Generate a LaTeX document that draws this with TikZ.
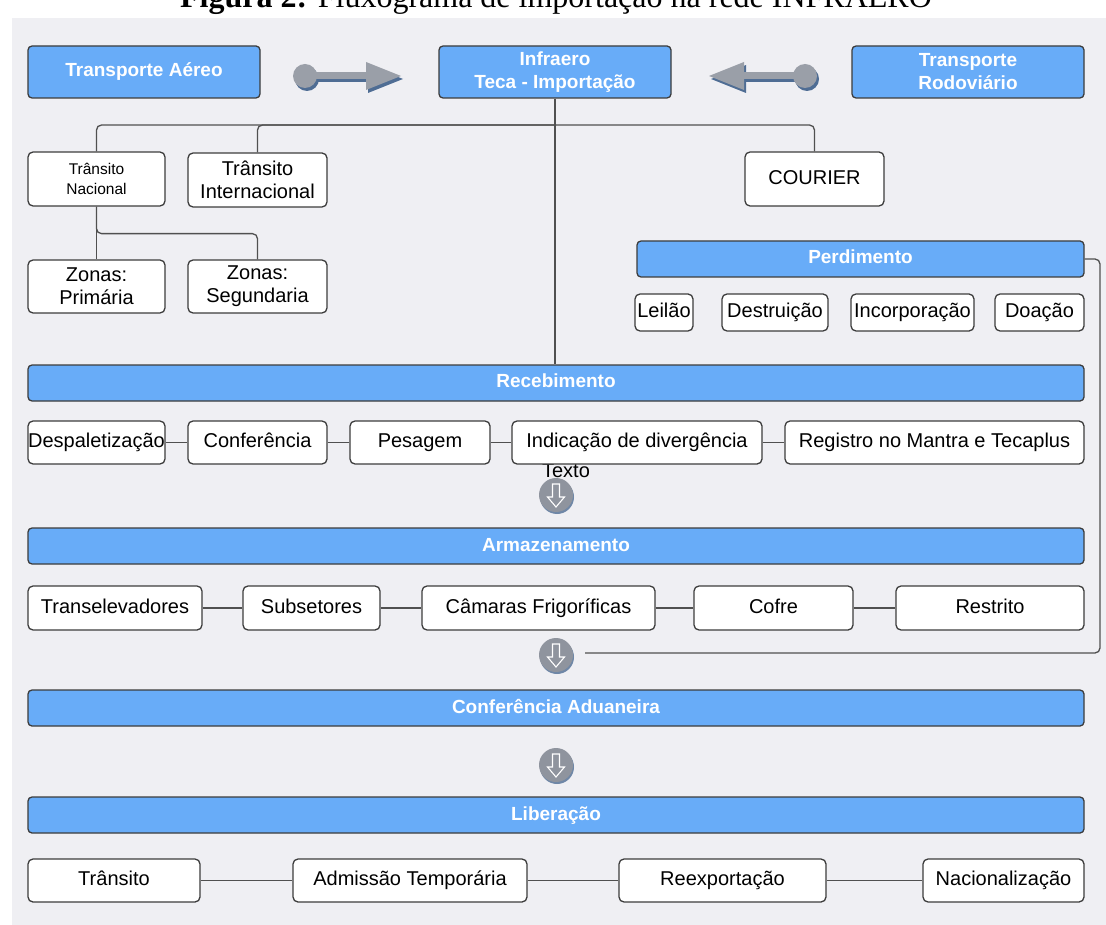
\documentclass[tikz,border=0pt]{standalone}
\usepackage{fontspec}
\setmainfont{Liberation Sans}
\newfontfamily\titlefont{Liberation Serif}
\usepackage{xcolor}
\usepackage{tikz}
\usetikzlibrary{positioning,shadows}
\definecolor{panelgray}{HTML}{EFEFF3}
\definecolor{barblue}{HTML}{68ACF8}
\definecolor{boxline}{HTML}{3C3C3C}
\definecolor{linegray}{HTML}{505050}
\definecolor{arrowgray}{HTML}{9A9FA8}
\definecolor{arrowshade}{HTML}{4F6D94}
\definecolor{circlegray}{HTML}{8F949E}
\tikzset{
	x=1pt, y=-1pt, % pixel grid of the figure
	bar/.style={draw=boxline, fill=barblue, rounded corners=4pt, line width=1.3pt,
		text=white, font=\bfseries\fontsize{19}{23}\selectfont,
		minimum width=1056pt, minimum height=36pt, inner sep=0pt,
		text height=14pt, text depth=4pt},
	topbox/.style={bar, minimum width=232pt, minimum height=52pt, align=center,
		text height=, text depth=},
	item2/.style={draw=boxline, fill=white, rounded corners=5pt, line width=1.3pt,
		font=\fontsize{20}{23}\selectfont, inner sep=0pt, align=center, minimum height=43pt},
	item/.style={item2, text height=14.5pt, text depth=4pt},
	link/.style={draw=linegray, line width=1.3pt, rounded corners=5pt},
	godown/.style={circle, fill=circlegray, minimum size=34pt, inner sep=0pt,
		drop shadow={shadow xshift=1pt, shadow yshift=-2pt, fill=arrowshade, opacity=.8}},
	titulo/.style={font=\titlefont\fontsize{32}{36}\selectfont},
}
\begin{document}
\begin{tikzpicture}
	\clip (0,0) rectangle (1106,925);
	\fill[panelgray] (12,18) rectangle (1106,925);
	\node[titulo, anchor=base] (titulo) at (556,8) {\textbf{Figura 2:} Fluxograma de importação na rede INFRAERO};

	% topo
	\node[topbox] (aereo) at (144,72) {Transporte Aéreo};
	\node[topbox] (infraero) at (555,72) {Infraero\\Teca - Importação};
	\node[topbox] (rodoviario) at (968,72) {Transporte\\Rodoviário};

	% setas grossas (sombra e depois a seta)
	\foreach \dx/\dy/\cor in {2/3/arrowshade, 0/0/arrowgray}{
		\begin{scope}[shift={(\dx,\dy)}]
			\fill[\cor] (305,76) circle (12pt);
			\fill[\cor] (305,72.5) rectangle (367,79.5);
			\fill[\cor] (366,62) -- (401,76) -- (366,90) -- cycle;
			\fill[\cor] (805,76) circle (12pt);
			\fill[\cor] (743,72.5) rectangle (805,79.5);
			\fill[\cor] (744,62) -- (709,76) -- (744,90) -- cycle;
		\end{scope}
	}

	% ramos de transito
	\node[item2, minimum width=137pt, minimum height=54pt, font=\fontsize{15.5}{20}\selectfont] (nacional) at (96.5,179) {Trânsito\\Nacional};
	\node[item2, minimum width=139pt, minimum height=54pt] (internacional) at (257.5,180) {Trânsito\\Internacional};
	\node[item, minimum width=139pt, minimum height=54pt] (courier) at (814.5,179) {COURIER};
	\node[item2, minimum width=137pt, minimum height=53pt] (primaria) at (96.5,286.5) {Zonas:\\Primária};
	\node[item2, minimum width=139pt, minimum height=53pt] (segundaria) at (257.5,286.5) {Zonas:\\Segundaria};

	\coordinate (hub) at (556,125);
	\draw[link] (nacional.north) |- (hub) -| (courier.north);
	\draw[link] (internacional.north) |- (hub);
	\draw[link] (nacional.south) -- (primaria.north);
	\draw[link] (nacional.south) -- ++(0,27) -| (segundaria.north);

	% perdimento
	\node[bar, minimum width=447pt] (perdimento) at (860.5,259) {Perdimento};
	\node[item, minimum width=58pt, minimum height=37pt] (leilao) at (664,312.5) {Leilão};
	\node[item, minimum width=106pt, minimum height=37pt] (destruicao) at (775,312.5) {Destruição};
	\node[item, minimum width=123pt, minimum height=37pt] (incorporacao) at (912.5,312.5) {Incorporação};
	\node[item, minimum width=89pt, minimum height=37pt] (doacao) at (1039.5,312.5) {Doação};

	% recebimento
	\node[bar] (recebimento) at (556,383) {Recebimento};
	\draw[link] (infraero.south) -- (infraero.south |- recebimento.north);
	\node[font=\fontsize{20}{23}\selectfont] (texto) at (566,471) {Texto};
	\node[item, minimum width=137pt] (despal) at (96.5,442.5) {Despaletização};
	\node[item, minimum width=139pt] (conferencia) at (257.5,442.5) {Conferência};
	\node[item, minimum width=140pt] (pesagem) at (420,442.5) {Pesagem};
	\node[item, minimum width=250pt] (divergencia) at (637,442.5) {Indicação de divergência};
	\node[item, minimum width=299pt] (registro) at (934.5,442.5) {Registro no Mantra e Tecaplus};
	\draw[link] (despal) -- (conferencia) (conferencia) -- (pesagem)
		(pesagem) -- (divergencia) (divergencia) -- (registro);

	% setas para baixo
	\foreach \cy/\nm in {495/setaA, 655/setaB, 765/setaC}{
		\node[godown] (\nm) at (556,\cy) {};
		\draw[white, line width=1.1pt, line join=miter] (552.5,\cy-11) -- (552.5,\cy+2) -- (547.5,\cy+2)
			-- (556,\cy+12) -- (564.5,\cy+2) -- (559.5,\cy+2) -- (559.5,\cy-11) -- cycle;
	}

	% armazenamento
	\node[bar] (armazenamento) at (556,546) {Armazenamento};
	\node[item, minimum width=174pt, minimum height=44pt] (transel) at (115,608) {Transelevadores};
	\node[item, minimum width=137pt, minimum height=44pt] (subsetores) at (311.5,608) {Subsetores};
	\node[item, minimum width=233pt, minimum height=44pt] (camaras) at (538.5,608) {Câmaras Frigoríficas};
	\node[item, minimum width=159pt, minimum height=44pt] (cofre) at (773.5,608) {Cofre};
	\node[item, minimum width=188pt, minimum height=44pt] (restrito) at (990,608) {Restrito};
	\draw[link] (transel) -- (subsetores) (subsetores) -- (camaras)
		(camaras) -- (cofre) (cofre) -- (restrito);

	% retorno do perdimento
	\coordinate (retorno) at (585,653);
	\draw[link] (perdimento.east) -| (1100,653) -- (retorno);

	% conferencia aduaneira e liberacao
	\node[bar] (aduaneira) at (556,708) {Conferência Aduaneira};
	\node[bar] (liberacao) at (556,815) {Liberação};
	\node[item, minimum width=172pt] (transito) at (114,880.5) {Trânsito};
	\node[item, minimum width=234pt] (admissao) at (410,880.5) {Admissão Temporária};
	\node[item, minimum width=207pt] (reexport) at (722.5,880.5) {Reexportação};
	\node[item, minimum width=161pt] (nacionaliz) at (1003.5,880.5) {Nacionalização};
	\draw[link] (transito) -- (admissao) (admissao) -- (reexport) (reexport) -- (nacionaliz);
\end{tikzpicture}
\end{document}
